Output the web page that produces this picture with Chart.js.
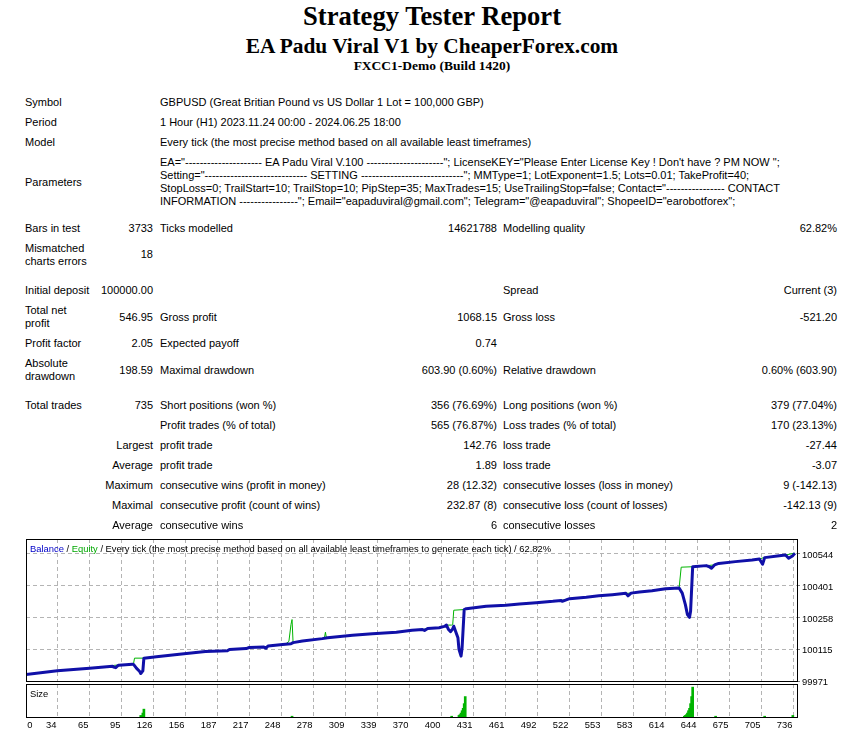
<!DOCTYPE html>
<html><head><meta charset="utf-8"><title>Strategy Tester Report</title>
<script src="https://cdn.jsdelivr.net/npm/chart.js@4/dist/chart.umd.min.js"></script>
<style>
html,body{margin:0;padding:0;background:#fff;}
body{position:relative;width:850px;height:735px;overflow:hidden;font-family:"Liberation Sans",Arial,sans-serif;font-size:11px;color:#000;}
.t{position:absolute;white-space:nowrap;line-height:13px;}
.c{position:absolute;white-space:nowrap;font-size:9.4px;line-height:11px;}
.h{position:absolute;left:22px;width:820px;text-align:center;font-family:"Liberation Serif","Times New Roman",serif;font-weight:bold;white-space:nowrap;color:#000;}
canvas{position:absolute;left:0;}
</style></head><body>
<div class="h" style="top:0.5px;font-size:26.6px;line-height:30px">Strategy Tester Report</div>
<div class="h" style="top:33.8px;font-size:21.4px;line-height:24px">EA Padu Viral V1 by CheaperForex.com</div>
<div class="h" style="top:57.5px;font-size:13.5px;line-height:16px">FXCC1-Demo (Build 1420)</div>
<canvas id="main" width="850" height="165" style="top:530px"></canvas>
<canvas id="size" width="850" height="55" style="top:680px"></canvas>
<div class="c" style="left:30px;top:543px"><span style="color:#0000c8">Balance</span> / <span style="color:#00a800">Equity</span> / Every tick (the most precise method based on all available least timeframes to generate each tick) / 62.82%</div>
<div class="c" style="left:30px;top:688px">Size</div>
<script>
// ---------- chart data ----------
const xTickLabels = ['0','34','65','95','126','156','187','217','248','278','309','339','370','400','431','461','492','522','553','583','614','644','675','705','736'];
const yTickLabels = ['99971','100115','100258','100401','100544'];

const tradeIdx = [0,30,61,83,84,86,88,89,102,103,104,106,109,110,112,113,125,147,172,193,195,211,214,228,230,232,246,254,256,265,284,289,313,332,355,370,380,382,385,396,401,403,405,407,409,410,414,415,417,418,420,422,441,460,473,489,505,513,514,521,537,549,562,575,577,580,588,600,613,626,629,632,634,636,637,639,652,655,657,660,664,680,696,703,706,708,722,728,731,735,737];
const balance  = [100000,100017,100028,100038,100034,100031,100040,100042,100047,100046,100040,100028,100014,100005,100017,100074,100080,100092,100104,100107,100113,100117,100122,100124,100119,100129,100136,100139,100144,100151,100162,100166,100177,100184,100191,100200,100203,100199,100208,100211,100217,100223,100203,100193,100206,100218,100166,100114,100083,100121,100293,100297,100308,100312,100318,100324,100330,100334,100330,100342,100348,100355,100360,100366,100355,100367,100372,100378,100387,100390,100367,100315,100270,100258,100285,100486,100491,100486,100479,100494,100501,100509,100516,100521,100497,100527,100536,100539,100524,100536,100547];

const eqIdx  = [0,30,61,83,85,89,102,103,104,113,125,147,172,193,195,211,214,228,232,246,249,252,254,255,256,263,265,284,286,287,288,289,313,332,355,370,380,384,385,396,401,403,408,409,410,420,422,441,460,473,489,505,513,514,521,537,549,562,575,580,588,600,613,626,628,639,652,655,659,664,680,696,703,707,722,728,737];
const equity = [100000,100017,100028,100038,100042,100042,100047,100047,100074,100074,100080,100092,100104,100107,100113,100117,100122,100124,100129,100136,100138,100150,100226,100248,100144,100148,100151,100162,100164,100191,100164,100166,100177,100184,100191,100200,100203,100206,100208,100211,100217,100223,100223,100225,100290,100293,100297,100308,100312,100318,100324,100330,100334,100335,100342,100348,100355,100360,100366,100367,100372,100378,100387,100390,100484,100486,100491,100492,100494,100501,100509,100516,100521,100527,100536,100539,100547];

const sizeIdx  = [110,112,113,255,408,415,416,417,418,419,420,421,631,632,633,634,635,636,637,638,639,661,708,735];
const sizeLots = [0.02,0.05,0.10,0.01,0.01,0.02,0.03,0.05,0.08,0.11,0.17,0.26,0.01,0.02,0.03,0.05,0.08,0.11,0.17,0.26,0.38,0.01,0.01,0.02];

// axis ranges
const X_MAX = 739, X_STEP = 736/24;
const Y_MIN = 99971, Y_TOP = 100544, Y_MAX = 100611;
const SIZE_MAX = 0.42;

// ---------- report table ----------
const rows = [
 [106,[[25,'l','Symbol'],[160,'l','GBPUSD (Great Britian Pound vs US Dollar 1 Lot = 100,000 GBP)']]],
 [126,[[25,'l','Period'],[160,'l','1 Hour (H1) 2023.11.24 00:00 - 2024.06.25 18:00']]],
 [146,[[25,'l','Model'],[160,'l','Every tick (the most precise method based on all available least timeframes)']]],
 [166,[[160,'l','EA="--------------------- EA Padu Viral V.100 ---------------------"; LicenseKEY="Please Enter License Key ! Don\'t have ? PM NOW ";']]],
 [179,[[160,'l','Setting="---------------------------- SETTING ----------------------------"; MMType=1; LotExponent=1.5; Lots=0.01; TakeProfit=40;']]],
 [186,[[25,'l','Parameters']]],
 [192,[[160,'l','StopLoss=0; TrailStart=10; TrailStop=10; PipStep=35; MaxTrades=15; UseTrailingStop=false; Contact="---------------- CONTACT']]],
 [205,[[160,'l','INFORMATION ----------------"; Email="eapaduviral@gmail.com"; Telegram="@eapaduviral"; ShopeeID="earobotforex";']]],
 [232,[[25,'l','Bars in test'],[153,'r','3733'],[160,'l','Ticks modelled'],[497,'r','14621788'],[503,'l','Modelling quality'],[837,'r','62.82%']]],
 [252,[[25,'l','Mismatched']]],
 [258,[[153,'r','18']]],
 [265,[[25,'l','charts errors']]],
 [294,[[25,'l','Initial deposit'],[153,'r','100000.00'],[503,'l','Spread'],[837,'r','Current (3)']]],
 [314,[[25,'l','Total net']]],
 [321,[[153,'r','546.95'],[160,'l','Gross profit'],[497,'r','1068.15'],[503,'l','Gross loss'],[837,'r','-521.20']]],
 [327,[[25,'l','profit']]],
 [347,[[25,'l','Profit factor'],[153,'r','2.05'],[160,'l','Expected payoff'],[497,'r','0.74']]],
 [367,[[25,'l','Absolute']]],
 [374,[[153,'r','198.59'],[160,'l','Maximal drawdown'],[497,'r','603.90 (0.60%)'],[503,'l','Relative drawdown'],[837,'r','0.60% (603.90)']]],
 [380,[[25,'l','drawdown']]],
 [409,[[25,'l','Total trades'],[153,'r','735'],[160,'l','Short positions (won %)'],[497,'r','356 (76.69%)'],[503,'l','Long positions (won %)'],[837,'r','379 (77.04%)']]],
 [429,[[160,'l','Profit trades (% of total)'],[497,'r','565 (76.87%)'],[503,'l','Loss trades (% of total)'],[837,'r','170 (23.13%)']]],
 [449,[[153,'r','Largest'],[160,'l','profit trade'],[497,'r','142.76'],[503,'l','loss trade'],[837,'r','-27.44']]],
 [469,[[153,'r','Average'],[160,'l','profit trade'],[497,'r','1.89'],[503,'l','loss trade'],[837,'r','-3.07']]],
 [489,[[153,'r','Maximum'],[160,'l','consecutive wins (profit in money)'],[497,'r','28 (12.32)'],[503,'l','consecutive losses (loss in money)'],[837,'r','9 (-142.13)']]],
 [509,[[153,'r','Maximal'],[160,'l','consecutive profit (count of wins)'],[497,'r','232.87 (8)'],[503,'l','consecutive loss (count of losses)'],[837,'r','-142.13 (9)']]],
 [529,[[153,'r','Average'],[160,'l','consecutive wins'],[497,'r','6'],[503,'l','consecutive losses'],[837,'r','2']]]
];
rows.forEach(([base,cells])=>cells.forEach(([x,al,txt])=>{
  const d=document.createElement('div'); d.className='t'; d.textContent=txt;
  d.style.top=(base-10.3)+'px';
  if(al==='r') d.style.right=(850-x)+'px'; else d.style.left=x+'px';
  document.body.appendChild(d);
}));

// ---------- charts ----------
const FONT='"Liberation Sans", Arial, sans-serif';
const TICK_FONT={family:FONT,size:9.4};
const GRID_COLOR='#b4b4b4', GRID_DASH=[4,3];
const boxPlugin={id:'box',afterDraw(chart){
  const a=chart.chartArea,ctx=chart.ctx;ctx.save();ctx.setLineDash([]);ctx.strokeStyle='#000';ctx.lineWidth=1;
  const l=Math.floor(a.left)+0.5,t=Math.floor(a.top)+0.5,r=Math.floor(a.right)+0.5,b=Math.floor(a.bottom)+0.5;
  ctx.strokeRect(l,t,r-l,b-t);ctx.restore();}};
const gridTicks=s=>{s.ticks=xTickLabels.map((l,i)=>({value:i*X_STEP}));};
const unitPerPx=X_MAX/771;

new Chart(document.getElementById('main'),{
  type:'line',
  data:{datasets:[
    {label:'Balance',data:tradeIdx.map((x,i)=>({x,y:balance[i]})),borderColor:'#1010a8',borderWidth:3,pointRadius:0,tension:0,borderJoinStyle:'round',order:0},
    {label:'Equity',data:eqIdx.map((x,i)=>({x,y:equity[i]})),borderColor:'#00b400',borderWidth:1,pointRadius:0,tension:0,order:1}
  ]},
  options:{
    responsive:false,animation:false,events:[],
    layout:{padding:{left:26,top:9,right:0,bottom:14}},
    plugins:{legend:{display:false},tooltip:{enabled:false}},
    scales:{
      x:{type:'linear',min:0,max:X_MAX,afterBuildTicks:gridTicks,afterFit:s=>{s.height=0;},
         ticks:{display:false},grid:{color:GRID_COLOR,drawTicks:false},border:{display:false,dash:GRID_DASH}},
      y:{type:'linear',position:'right',min:Y_MIN,max:Y_MAX,
         afterBuildTicks:s=>{s.ticks=yTickLabels.map((l,i)=>({value:Y_MIN+i*(Y_TOP-Y_MIN)/(yTickLabels.length-1)}));},
         afterFit:s=>{s.width=53;},
         ticks:{autoSkip:false,padding:2,labelOffset:1.5,color:'#000',font:TICK_FONT,callback:(v,i)=>yTickLabels[i]},
         grid:{color:GRID_COLOR,tickColor:'#808080',tickLength:3,tickBorderDash:[]},border:{display:false,dash:GRID_DASH}}
    }
  },
  plugins:[boxPlugin]
});

new Chart(document.getElementById('size'),{
  type:'bar',
  data:{datasets:[{label:'Size',data:sizeIdx.map((x,i)=>({x,y:sizeLots[i]})),backgroundColor:'#00b400',borderWidth:0,barThickness:2,grouped:false}]},
  options:{
    responsive:false,animation:false,events:[],
    layout:{padding:{left:26,top:4,right:53,bottom:0}},
    plugins:{legend:{display:false},tooltip:{enabled:false}},
    scales:{
      x:{type:'linear',min:0,max:X_MAX,offset:false,afterBuildTicks:gridTicks,afterFit:s=>{s.height=0;},
         ticks:{display:false},grid:{color:GRID_COLOR,drawTicks:false,offset:false},border:{display:false,dash:GRID_DASH}},
      xl:{type:'linear',position:'bottom',min:0,max:X_MAX,offset:false,
         afterBuildTicks:s=>{s.ticks=xTickLabels.map((l,i)=>({value:i===0?6.5*unitPerPx:i*X_STEP-1.5*unitPerPx}));},
         afterFit:s=>{s.height=18;},
         ticks:{autoSkip:false,maxRotation:0,minRotation:0,align:'end',padding:3,color:'#000',font:TICK_FONT,callback:(v,i)=>xTickLabels[i]},
         grid:{display:false,drawTicks:false,offset:false},border:{display:false}},
      y:{min:0,max:SIZE_MAX,display:false}
    }
  },
  plugins:[boxPlugin]
});
</script>
</body></html>
